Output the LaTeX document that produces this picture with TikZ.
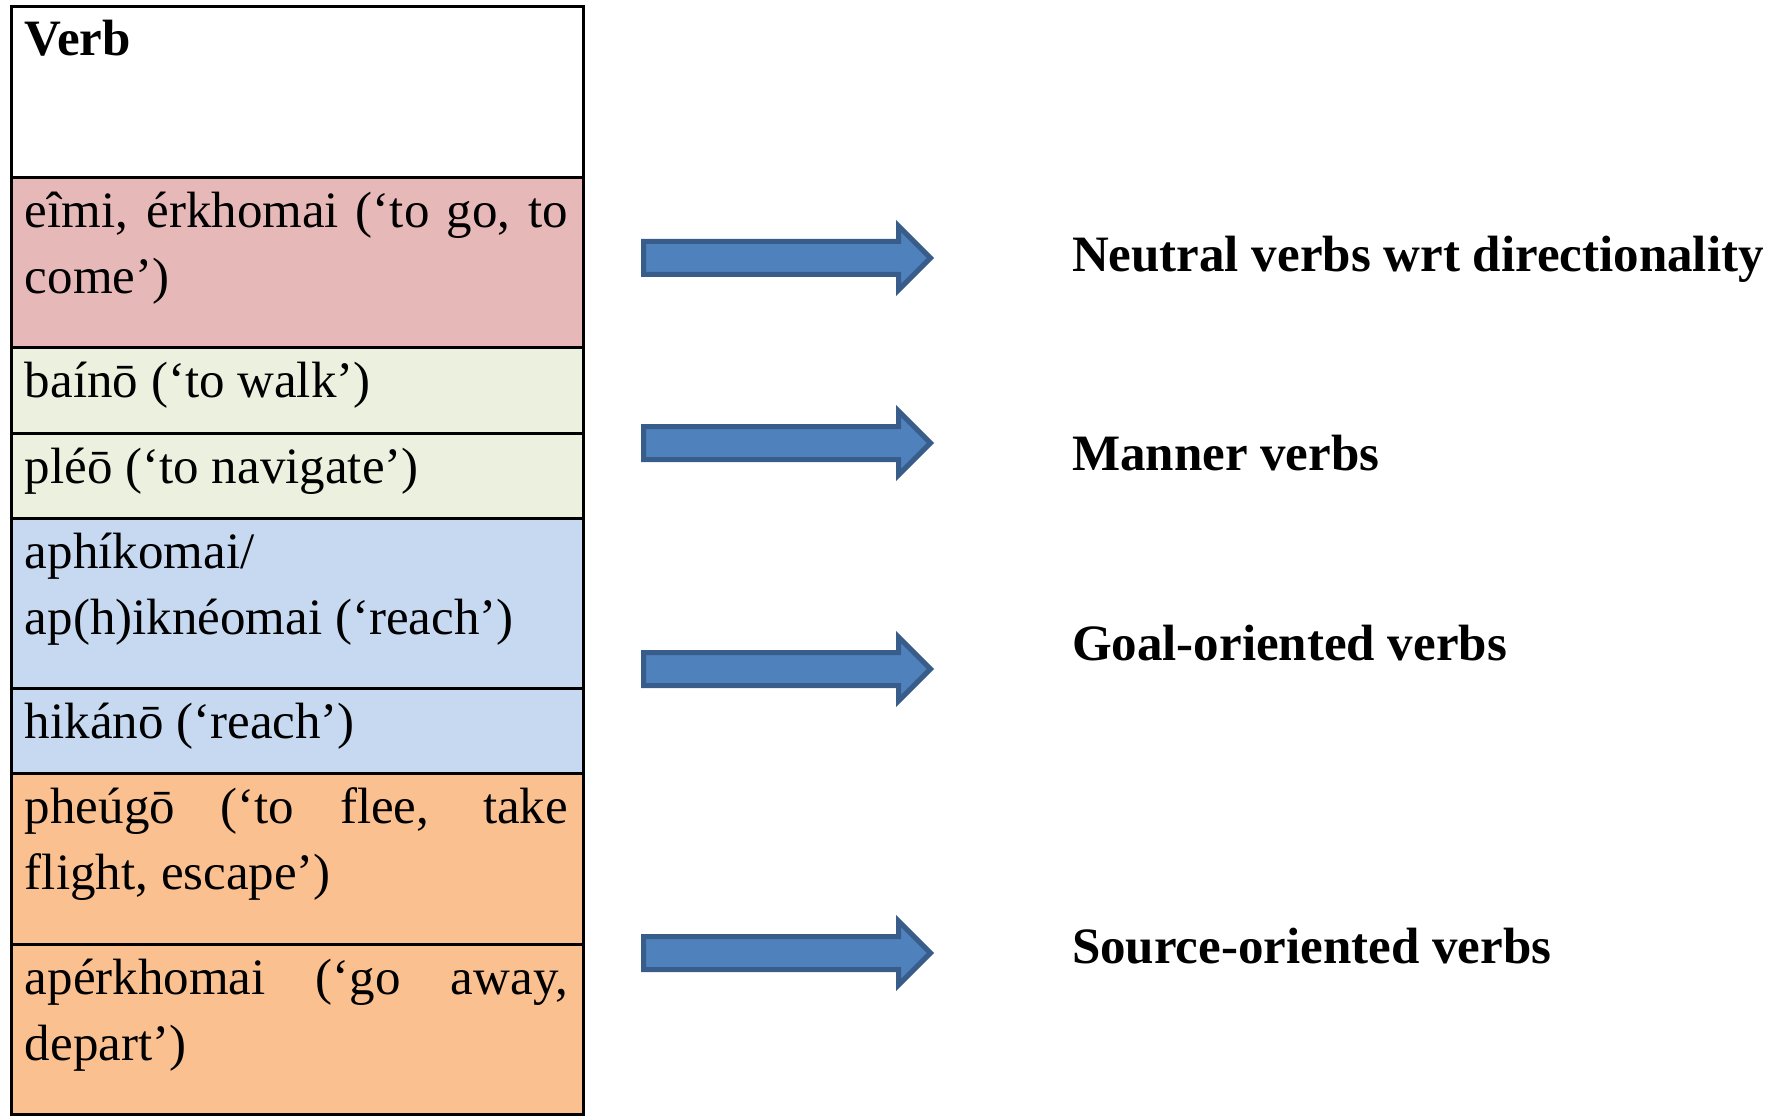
\documentclass[tikz,border=0pt]{standalone}
\usepackage{fontspec}
\setmainfont{Liberation Serif}
\definecolor{cellpink}{HTML}{E6B9B8}
\definecolor{cellgreen}{HTML}{EBF1DE}
\definecolor{cellblue}{HTML}{C6D9F1}
\definecolor{cellorange}{HTML}{FAC090}
\definecolor{arrowfill}{HTML}{4F81BD}
\definecolor{arrowline}{HTML}{385D8A}
\newcommand\jtwo[2]{\vtop{\hbox{\makebox[271.5pt][s]{#1}}\hbox{#2}}}
\newcommand\ptwo[2]{\vtop{\hbox{#1}\hbox{#2}}}
\begin{document}
\begin{tikzpicture}[x=0.5pt,y=-0.5pt,
  cell/.style={draw=black,line width=1.5pt,anchor=north west,minimum width=286pt,inner sep=0pt,outer sep=0pt},
  txt/.style={anchor=base west,inner sep=0pt,outer sep=0pt,font=\fontsize{25.5}{33}\selectfont},
  lab/.style={anchor=base west,inner sep=0pt,outer sep=0pt,font=\fontsize{25.5}{30}\selectfont\bfseries},
  barrow/.style={fill=arrowfill,draw=arrowline,line width=2.5pt,line join=miter},
  blockarrow/.pic={\draw[barrow] (0,-16.5) -- (255,-16.5) -- (255,-32) -- (287,0) -- (255,32) -- (255,16.5) -- (0,16.5) -- cycle;}]
\useasboundingbox (0,0) rectangle (1781,1117);
% cells
\node[cell,fill=white,minimum height=85.2pt] (c0) at (11,7) {};
\node[cell,fill=cellpink,minimum height=85.2pt] (c1) at (11,177.4) {};
\node[cell,fill=cellgreen,minimum height=42.6pt] (c2) at (11,347.8) {};
\node[cell,fill=cellgreen,minimum height=42.6pt] (c3) at (11,433) {};
\node[cell,fill=cellblue,minimum height=85.2pt] (c4) at (11,518.2) {};
\node[cell,fill=cellblue,minimum height=42.6pt] (c5) at (11,688.6) {};
\node[cell,fill=cellorange,minimum height=85.2pt] (c6) at (11,773.8) {};
\node[cell,fill=cellorange,minimum height=85.2pt] (c7) at (11,944.2) {};
% cell texts
\node[txt] (t0) at (25,56) {\textbf{Verb}};
\node[txt] (t1) at (25,227.4) {\jtwo{eîmi, érkhomai (‘to go, to}{come’)}};
\node[txt] (t2) at (25,397.8) {baínō (‘to walk’)};
\node[txt] (t3) at (25,483) {pléō (‘to navigate’)};
\node[txt] (t4) at (25,568.2) {\ptwo{aphíkomai/}{ap(h)iknéomai (‘reach’)}};
\node[txt] (t5) at (25,738.6) {hikánō (‘reach’)};
\node[txt] (t6) at (25,823.8) {\jtwo{pheúgō (‘to flee, take}{flight, escape’)}};
\node[txt] (t7) at (25,994.2) {\jtwo{apérkhomai (‘go away,}{depart’)}};
% arrows
\pic (a1) at (643.5,258) {blockarrow};
\pic (a2) at (643.5,443) {blockarrow};
\pic (a3) at (643.5,669) {blockarrow};
\pic (a4) at (643.5,953) {blockarrow};
% labels
\node[lab] (l1) at (1072,272) {Neutral verbs wrt directionality};
\node[lab] (l2) at (1072,470) {Manner verbs};
\node[lab] (l3) at (1072,660) {Goal-oriented verbs};
\node[lab] (l4) at (1072,963) {Source-oriented verbs};
\end{tikzpicture}
\end{document}
